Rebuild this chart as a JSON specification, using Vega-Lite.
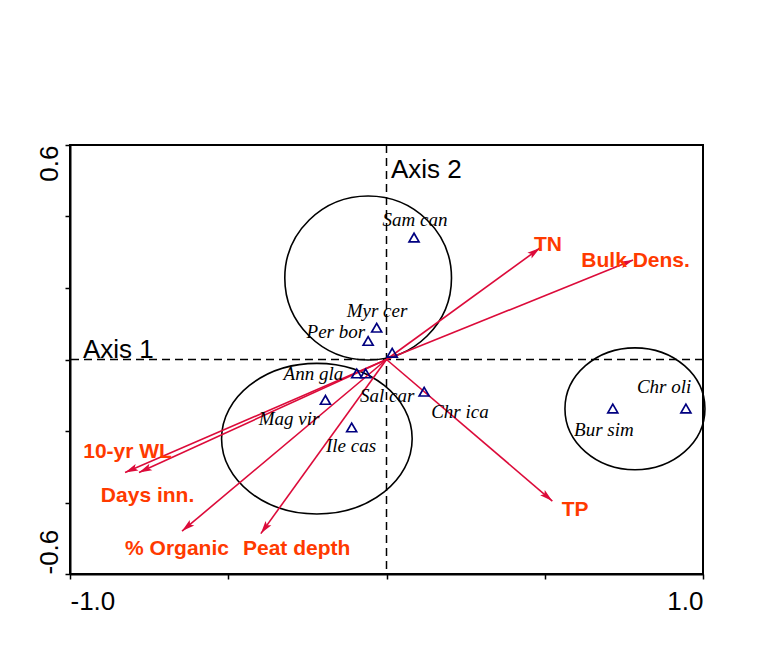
{
  "$schema": "https://vega.github.io/schema/vega-lite/v6.json",
  "width": 633,
  "height": 429,
  "autosize": {"type": "none"},
  "padding": {"left": 70, "top": 145, "right": 58, "bottom": 94},
  "background": "white",
  "config": {"view": {"stroke": "black", "strokeWidth": 2}, "font": "Liberation Sans"},
  "datasets": {
    "env": [
      {"name": "TN", "x": 0.485, "y": 0.312},
      {"name": "Bulk Dens.", "x": 0.779, "y": 0.278},
      {"name": "TP", "x": 0.524, "y": -0.396},
      {"name": "10-yr WL", "x": -0.826, "y": -0.316},
      {"name": "Days inn.", "x": -0.782, "y": -0.316},
      {"name": "% Organic", "x": -0.646, "y": -0.48},
      {"name": "Peat depth", "x": -0.397, "y": -0.487}
    ],
    "envlabels": [
      {"label": "TN", "x": 0.51, "y": 0.32},
      {"label": "Bulk Dens.", "x": 0.787, "y": 0.276},
      {"label": "TP", "x": 0.596, "y": -0.421},
      {"label": "10-yr WL", "x": -0.818, "y": -0.258},
      {"label": "Days inn.", "x": -0.755, "y": -0.382},
      {"label": "% Organic", "x": -0.662, "y": -0.531},
      {"label": "Peat depth", "x": -0.284, "y": -0.531}
    ],
    "species": [
      {"sp": "Sam can", "x": 0.087, "y": 0.341},
      {"sp": "Myr cer", "x": -0.031, "y": 0.089},
      {"sp": "Per bor", "x": -0.058, "y": 0.052},
      {"sp": "unlabelled", "x": 0.018, "y": 0.019},
      {"sp": "Ann gla", "x": -0.094, "y": -0.039},
      {"sp": "Sal car", "x": -0.066, "y": -0.039},
      {"sp": "Mag vir", "x": -0.193, "y": -0.113},
      {"sp": "Ile cas", "x": -0.11, "y": -0.19},
      {"sp": "Chr ica", "x": 0.119, "y": -0.09},
      {"sp": "Bur sim", "x": 0.715, "y": -0.137},
      {"sp": "Chr oli", "x": 0.946, "y": -0.137}
    ],
    "splabels": [
      {"label": "Sam can", "x": 0.09, "y": 0.373},
      {"label": "Myr cer", "x": -0.03, "y": 0.119},
      {"label": "Per bor", "x": -0.16, "y": 0.06},
      {"label": "Ann gla", "x": -0.231, "y": -0.057},
      {"label": "Sal car", "x": 0.002, "y": -0.119},
      {"label": "Mag vir", "x": -0.308, "y": -0.183},
      {"label": "Ile cas", "x": -0.112, "y": -0.259},
      {"label": "Chr ica", "x": 0.232, "y": -0.164},
      {"label": "Bur sim", "x": 0.687, "y": -0.214},
      {"label": "Chr oli", "x": 0.877, "y": -0.094}
    ],
    "axislabels": [
      {"label": "Axis 1", "x": -0.959, "y": 0.005},
      {"label": "Axis 2", "x": 0.014, "y": 0.508}
    ]
  },
  "layer": [
    {
      "data": {"values": [{"grp": "A", "x": -0.058, "y": 0.228}]},
      "mark": {"type": "point", "filled": false, "stroke": "black", "strokeWidth": 1.6, "opacity": 1, "size": 27789,
        "shape": "M-1,0 C-1,-0.5435 -0.5523,-0.984 0,-0.984 C0.5523,-0.984 1,-0.5435 1,0 C1,0.5435 0.5523,0.984 0,0.984 C-0.5523,0.984 -1,0.5435 -1,0 Z"},
      "encoding": {
        "x": {"field": "x", "type": "quantitative",
          "scale": {"domain": [-1, 1], "nice": false, "zero": false},
          "axis": {"title": null, "values": [-1, -0.5, 0, 0.5, 1],
            "labelExpr": "datum.value < -0.9 ? '-1.0' : datum.value > 0.9 ? '1.0' : ''",
            "labelFlush": true, "labelOverlap": false, "labelBound": false, "grid": false,
            "tickSize": 5, "tickWidth": 1.5, "tickColor": "black", "domainColor": "black", "domainWidth": 2,
            "labelFontSize": 26, "labelColor": "black", "labelFont": "Liberation Sans", "labelPadding": 9}},
        "y": {"field": "y", "type": "quantitative",
          "scale": {"domain": [-0.6, 0.6], "nice": false, "zero": false},
          "axis": {"title": null, "values": [-0.6, -0.4, -0.2, 0, 0.2, 0.4, 0.6],
            "labelExpr": "datum.value > 0.5 ? '0.6' : datum.value < -0.5 ? '-0.6' : ''",
            "labelAngle": -90,
            "labelAlign": {"condition": {"test": "datum.value > 0", "value": "right"}, "value": "left"},
            "labelBaseline": "alphabetic",
            "labelFlush": false, "labelOverlap": false, "labelBound": false, "grid": false,
            "tickSize": 5, "tickWidth": 1.5, "tickColor": "black", "domainColor": "black", "domainWidth": 2,
            "labelFontSize": 26, "labelColor": "black", "labelFont": "Liberation Sans", "labelPadding": 8}}
      }
    },
    {
      "data": {"values": [{"grp": "B", "x": -0.22, "y": -0.2215}]},
      "mark": {"type": "point", "filled": false, "stroke": "black", "strokeWidth": 1.6, "opacity": 1, "size": 36328,
        "shape": "M-1,0 C-1,-0.4363 -0.5523,-0.79 0,-0.79 C0.5523,-0.79 1,-0.4363 1,0 C1,0.4363 0.5523,0.79 0,0.79 C-0.5523,0.79 -1,0.4363 -1,0 Z"},
      "encoding": {
        "x": {"field": "x", "type": "quantitative"},
        "y": {"field": "y", "type": "quantitative"}
      }
    },
    {
      "data": {"values": [{"grp": "C", "x": 0.785, "y": -0.138}]},
      "mark": {"type": "point", "filled": false, "stroke": "black", "strokeWidth": 1.6, "opacity": 1, "size": 19600,
        "shape": "M-1,0 C-1,-0.4811 -0.5523,-0.871 0,-0.871 C0.5523,-0.871 1,-0.4811 1,0 C1,0.4811 0.5523,0.871 0,0.871 C-0.5523,0.871 -1,0.4811 -1,0 Z"},
      "encoding": {
        "x": {"field": "x", "type": "quantitative"},
        "y": {"field": "y", "type": "quantitative"}
      }
    },
    {
      "data": {"values": [{"line": "Axis 1"}]},
      "mark": {"type": "rule", "color": "black", "strokeWidth": 1.5, "strokeDash": [8, 5]},
      "encoding": {"y": {"datum": 0, "type": "quantitative"}}
    },
    {
      "data": {"values": [{"line": "Axis 2"}]},
      "mark": {"type": "rule", "color": "black", "strokeWidth": 1.5, "strokeDash": [8, 5]},
      "encoding": {"x": {"datum": 0, "type": "quantitative"}}
    },
    {
      "data": {"name": "env"},
      "mark": {"type": "rule", "color": "#dc0b3a", "strokeWidth": 1.6},
      "encoding": {
        "x": {"field": "x", "type": "quantitative"},
        "y": {"field": "y", "type": "quantitative"},
        "x2": {"datum": 0},
        "y2": {"datum": 0}
      }
    },
    {
      "data": {"name": "env"},
      "transform": [{"calculate": "atan2(datum.x * 316.5, datum.y * 357.5) * 180 / PI", "as": "ang"}],
      "mark": {"type": "point", "filled": true, "color": "#dc0b3a", "opacity": 1, "size": 169,
        "shape": "M0,0 L0.55,2 L0,1.6 L-0.55,2 Z"},
      "encoding": {
        "x": {"field": "x", "type": "quantitative"},
        "y": {"field": "y", "type": "quantitative"},
        "angle": {"field": "ang", "type": "quantitative", "scale": null}
      }
    },
    {
      "data": {"name": "species"},
      "mark": {"type": "point", "shape": "triangle-up", "filled": false, "stroke": "#000080", "strokeWidth": 1.7, "opacity": 1, "size": 100},
      "encoding": {
        "x": {"field": "x", "type": "quantitative"},
        "y": {"field": "y", "type": "quantitative"}
      }
    },
    {
      "data": {"name": "splabels"},
      "mark": {"type": "text", "font": "Liberation Serif", "fontStyle": "italic", "fontSize": 19, "color": "black", "align": "center", "baseline": "alphabetic"},
      "encoding": {
        "x": {"field": "x", "type": "quantitative"},
        "y": {"field": "y", "type": "quantitative"},
        "text": {"field": "label"}
      }
    },
    {
      "data": {"name": "envlabels"},
      "mark": {"type": "text", "font": "Liberation Sans", "fontWeight": "bold", "fontSize": 21, "color": "#ff3a00", "align": "center", "baseline": "middle"},
      "encoding": {
        "x": {"field": "x", "type": "quantitative"},
        "y": {"field": "y", "type": "quantitative"},
        "text": {"field": "label"}
      }
    },
    {
      "data": {"name": "axislabels"},
      "mark": {"type": "text", "font": "Liberation Sans", "fontSize": 26, "color": "black", "align": "left", "baseline": "alphabetic"},
      "encoding": {
        "x": {"field": "x", "type": "quantitative"},
        "y": {"field": "y", "type": "quantitative"},
        "text": {"field": "label"}
      }
    }
  ]
}
